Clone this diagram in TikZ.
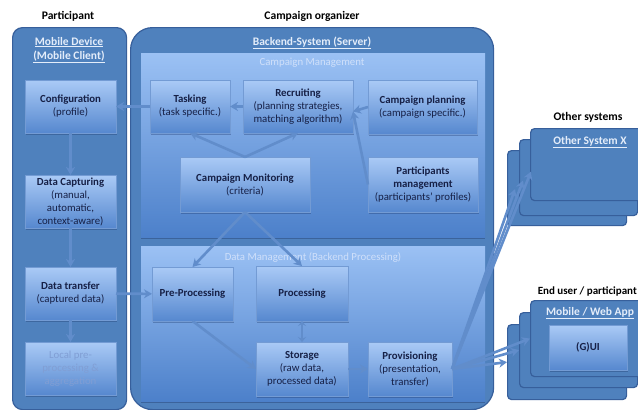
\documentclass[tikz,border=0pt]{standalone}
\usepackage{fontspec}
\setmainfont{Carlito}
\usetikzlibrary{shadows,arrows.meta,calc}
\definecolor{panel}{RGB}{79,129,189}
\definecolor{panelborder}{RGB}{55,95,155}
\definecolor{areatop}{RGB}{155,193,244}
\definecolor{areabot}{RGB}{76,128,202}
\definecolor{boxtop}{RGB}{170,202,246}
\definecolor{boxbot}{RGB}{86,136,207}
\definecolor{boxline}{RGB}{115,155,212}
\definecolor{txt}{RGB}{22,32,70}
\definecolor{hdr}{RGB}{228,237,250}
\definecolor{areatxt}{RGB}{208,224,250}
\definecolor{arrowc}{RGB}{97,141,203}
\definecolor{fadedtxt}{RGB}{128,158,212}
\definecolor{shadowc}{RGB}{30,55,105}
\tikzset{
  every node/.style={font=\fontsize{10.8}{13}\selectfont},
  panelbox/.style={anchor=north west, draw=panelborder, line width=1.2pt, fill=panel, inner sep=0pt},
  area/.style={anchor=north west, top color=areatop, bottom color=areabot, draw=none, inner sep=0pt,
    drop shadow={shadow xshift=0pt, shadow yshift=-2pt, opacity=0.4, fill=shadowc}},
  box/.style={anchor=north west, inner sep=1pt, outer sep=0pt, top color=boxtop, bottom color=boxbot,
    draw=boxline, line width=0.5pt, align=center, text=txt,
    drop shadow={shadow xshift=0.6pt, shadow yshift=-1.6pt, opacity=0.35, fill=shadowc}},
  stackbox/.style={anchor=north west, draw=panelborder, line width=1.2pt, fill=panel, rounded corners=4pt, inner sep=0pt},
  arr/.style={draw=arrowc, line width=2.6pt, -{Stealth[length=8pt,width=9pt,inset=2.5pt]}},
  dblarr/.style={draw=arrowc, line width=2.8pt, {Stealth[length=5pt,width=8pt,inset=2pt]}-{Stealth[length=5pt,width=8pt,inset=2pt]}},
  title/.style={font=\fontsize{11.6}{13}\selectfont\bfseries, text=black},
  hdrtext/.style={font=\fontsize{11.5}{14}\selectfont\bfseries, text=hdr, align=center},
  areatitle/.style={font=\fontsize{10.8}{12}\selectfont, text=areatxt},
}
\begin{document}
\begin{tikzpicture}[x=1pt,y=-1pt]
\clip (0,0) rectangle (638,410);
\fill[white] (0,0) rectangle (638,410);

% titles
\node[title] (tpart) at (68,16) {Participant};
\node[title] (torg) at (312,16) {Campaign organizer};
\node[title] (toth) at (588,117) {Other systems};
\node[title, font=\fontsize{11}{13}\selectfont\bfseries, anchor=east, inner sep=1pt] (tend) at (638,291) {End user / participant};

% panels
\node[panelbox, rounded corners=10pt, minimum width=114pt, minimum height=382pt] (ppanel) at (12,27) {};
\node[panelbox, rounded corners=22pt, minimum width=363pt, minimum height=382pt] (bpanel) at (130,27) {};
\node[area, minimum width=344pt, minimum height=184pt] (cmarea) at (141,53) {};
\node[area, minimum width=344pt, minimum height=155pt] (dmarea) at (141,246) {};

% headers
\node[hdrtext] (hmob) at (69,50) {\underline{Mobile Device}\\\underline{(Mobile Client)}};
\node[hdrtext] (hback) at (312,43) {\underline{Backend-System (Server)}};
\node[areatitle] (tcm) at (312,63) {Campaign Management};
\node[areatitle] (tdm) at (313,257) {Data Management (Backend Processing)};

% participant boxes
\node[box, minimum width=91pt, minimum height=53pt] (config) at (25,80) {\textbf{Configuration}\\(profile)};
\node[box, minimum width=91pt, minimum height=53pt] (cap) at (25,175) {\textbf{Data Capturing}\\(manual,\\automatic,\\context-aware)};
\node[box, minimum width=91pt, minimum height=53pt] (trans) at (25,267) {\textbf{Data transfer}\\(captured data)};
\node[box, minimum width=91pt, minimum height=53pt, text=fadedtxt] (local) at (25,342) {Local pre-\\processing \&\\aggregation};

% campaign management boxes
\node[box, minimum width=80pt, minimum height=53pt] (task) at (150,80) {\textbf{Tasking}\\(task specific.)};
\node[box, minimum width=110pt, minimum height=53pt] (rec) at (243,80) {\textbf{Recruiting}\\(planning strategies,\\matching algorithm)};
\node[box, minimum width=109pt, minimum height=54pt] (plan) at (368,80) {\textbf{Campaign planning}\\(campaign specific.)};
\node[box, minimum width=130pt, minimum height=55pt] (mon) at (180,157) {\textbf{Campaign Monitoring}\\(criteria)};
\node[box, minimum width=110pt, minimum height=55pt] (part) at (368,157) {\textbf{Participants}\\\textbf{management}\\(participants’ profiles)};

% data management boxes
\node[box, minimum width=81pt, minimum height=54pt] (pre) at (152,267) {\textbf{Pre-Processing}};
\node[box, minimum width=92pt, minimum height=55pt] (proc) at (256,266) {\textbf{Processing}};
\node[box, minimum width=92pt, minimum height=54pt] (stor) at (256,342) {\textbf{Storage}\\(raw data,\\processed data)};
\node[box, minimum width=84pt, minimum height=54pt] (prov) at (368,342) {\textbf{Provisioning}\\(presentation,\\transfer)};

% other systems stack
\node[stackbox, minimum width=119pt, minimum height=75pt] (osA) at (507,150) {};
\node[stackbox, minimum width=118pt, minimum height=76pt] (osB) at (519,139) {};
\node[stackbox, minimum width=120pt, minimum height=72pt] (osC) at (530,128) {};
\node[hdrtext] (hos) at (590,142) {\underline{Other System X}};

% mobile / web app stack
\node[stackbox, minimum width=119pt, minimum height=75pt] (muA) at (507,324) {};
\node[stackbox, minimum width=118pt, minimum height=75pt] (muB) at (519,312) {};
\node[stackbox, minimum width=120pt, minimum height=76pt] (muC) at (530,300) {};
\node[hdrtext] (hmw) at (590,313) {\underline{Mobile / Web App}};
\node[box, minimum width=78pt, minimum height=45pt] (gui) at (549,325) {\textbf{(G)UI}};

% connectors
\draw[arr] (task) -- (config);
\draw[arr] (rec) -- (task);
\draw[arr] (plan.west) -- ([yshift=-5pt]rec.east);
\draw[arr] (part.west) -- ([yshift=-5pt]rec.east);
\draw[arr] (mon.north) -- (task.south);
\draw[arr] (mon.north) -- (rec.south);
\draw[arr] (mon.south) -- (pre.north);
\draw[arr] (mon.south) -- (proc.north);
\draw[arr] (config) -- (cap);
\draw[arr] (cap) -- (trans);
\draw[arr] (trans) -- (local);
\draw[arr] (trans) -- (pre);
\draw[arr] (pre.south) -- (stor.west);
\draw[dblarr] (proc) -- (stor);
\draw[arr] (stor) -- (prov);
\draw[arr] (prov.east) -- ([xshift=8pt,yshift=-1pt]osA.west);
\draw[arr] (prov.east) -- ([xshift=4pt,yshift=-3pt]osB.west);
\draw[arr] (prov.east) -- ([xshift=1pt,yshift=-7pt]osC.west);
\draw[arr] (prov.east) -- (muA.west);
\draw[arr] (prov.east) -- (muB.west);
\draw[arr] (prov.east) -- (muC.west);
\end{tikzpicture}
\end{document}
